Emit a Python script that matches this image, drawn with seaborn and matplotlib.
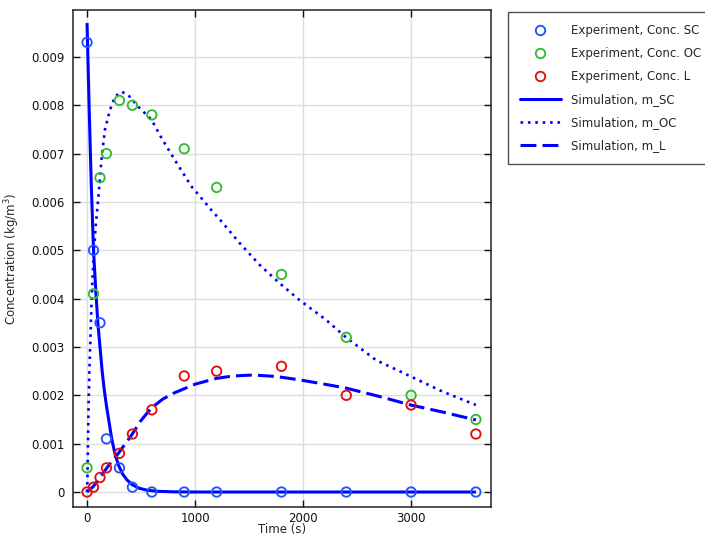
import numpy as np
import pandas as pd
import matplotlib
matplotlib.use("Agg")
import matplotlib.pyplot as plt
import seaborn as sns
from matplotlib.lines import Line2D

# ---- Experimental data ----
t_exp = [0, 60, 120, 180, 300, 420, 600, 900, 1200, 1800, 2400, 3000, 3600]
conc_sc = [0.0093, 0.0050, 0.0035, 0.0011, 0.0005, 0.0001, 0.0, 0.0, 0.0, 0.0, 0.0, 0.0, 0.0]
conc_oc = [0.0005, 0.0041, 0.0065, 0.0070, 0.0081, 0.0080, 0.0078, 0.0071, 0.0063, 0.0045, 0.0032, 0.0020, 0.0015]
conc_l = [0.0, 0.0001, 0.0003, 0.0005, 0.0008, 0.0012, 0.0017, 0.0024, 0.0025, 0.0026, 0.0020, 0.0018, 0.0012]

# ---- Simulation curves ----
t_sc = [0, 20, 40, 60, 80, 100, 120, 140, 160, 180, 200, 230, 260, 290, 330, 370, 420, 480, 550, 650, 800, 1000, 3600]
m_sc = [0.0097, 0.0079, 0.0063, 0.0050, 0.0042, 0.0035, 0.0030, 0.0025, 0.0021, 0.00178, 0.0015, 0.00108, 0.00078, 0.00056,
        0.00037, 0.00025, 0.00015, 0.00008, 0.00004, 0.000015, 0.000004, 0.0, 0.0]

t_oc = [0, 3, 6, 10, 15, 22, 30, 40, 50, 65, 80, 105, 136, 166, 212, 259, 320, 382, 474, 597, 690, 812, 967,
        1043, 1151, 1228, 1413, 1597, 1782, 1967, 2213, 2397, 2674, 2997, 3289, 3600]
m_oc = [0.0, 0.0002, 0.0006, 0.0012, 0.0019, 0.0025, 0.0031, 0.0038, 0.0044, 0.0050, 0.0055, 0.0061, 0.00694, 0.0075,
        0.0079, 0.00818, 0.00828, 0.00821, 0.00797, 0.0077, 0.00732, 0.00687, 0.00632, 0.00612, 0.00583, 0.00564,
        0.00515, 0.0047, 0.00432, 0.00397, 0.00356, 0.00320, 0.00273, 0.00239, 0.00208, 0.0018]

t_l = [0, 60, 120, 200, 290, 413, 500, 597, 700, 797, 1000, 1197, 1350, 1536, 1750, 1967, 2200, 2397, 2700, 2997, 3300, 3600]
m_l = [0.0, 0.00012, 0.0003, 0.00055, 0.0008, 0.00118, 0.00148, 0.00174, 0.00192, 0.00204, 0.00223, 0.00235, 0.0024,
       0.00242, 0.00239, 0.00232, 0.00223, 0.00215, 0.00198, 0.0018, 0.00165, 0.00149]

exp_labels = ["Experiment, Conc. SC", "Experiment, Conc. OC", "Experiment, Conc. L"]
sim_labels = ["Simulation, m_SC", "Simulation, m_OC", "Simulation, m_L"]
x_ticks = [0, 1000, 2000, 3000]
y_ticks = [0, 0.001, 0.002, 0.003, 0.004, 0.005, 0.006, 0.007, 0.008, 0.009]
y_ticklabels = ["0", "0.001", "0.002", "0.003", "0.004", "0.005", "0.006", "0.007", "0.008", "0.009"]

sns.set_style("ticks")
plt.rcParams["font.family"] = ["DejaVu Sans"]

fig = plt.figure(figsize=(7.05, 5.37), dpi=100)
ax = fig.add_axes([73 / 705, 1 - 507 / 537, (491 - 73) / 705, (507 - 10) / 537])

exp_colors = ["#2255ff", "#33bb33", "#dd1111"]
line_color = "#0000ff"
lw = 2.2

# grid
ax.grid(True, color="#dddddd", linewidth=1.0)
ax.set_axisbelow(True)

sim_dashes = [None, (1.0, 1.8), (5.2, 2.0)]
sim_lw = [lw, 1.9, lw]
for tt, mm, d, w in zip([t_sc, t_oc, t_l], [m_sc, m_oc, m_l], sim_dashes, sim_lw):
    df = pd.DataFrame({"t": tt, "m": mm})
    sns.lineplot(data=df, x="t", y="m", ax=ax, color=line_color, linewidth=w, sort=False, estimator=None)
    ln = ax.lines[-1]
    if d is not None:
        ln.set_dashes(d)
    ln.set_solid_capstyle("butt")
    ln.set_dash_capstyle("butt")

for vals, c in zip([conc_sc, conc_oc, conc_l], exp_colors):
    df = pd.DataFrame({"t": t_exp, "c": vals})
    sns.scatterplot(data=df, x="t", y="c", ax=ax, marker="o", s=46, facecolors="none",
                    edgecolor=c, linewidth=1.35, zorder=5)

ax.set_xlim(-130, 3740)
ax.set_ylim(-0.00031, 0.00997)
ax.set_xticks(x_ticks)
ax.set_xticklabels([str(v) for v in x_ticks])
ax.set_yticks(y_ticks)
ax.set_yticklabels(y_ticklabels)
ax.tick_params(direction="in", length=5, width=1.0, top=True, right=True, labelsize=8.5,
               colors="#111111")
ax.tick_params(axis="y", pad=6)
ax.tick_params(axis="x", pad=3.5)
ax.set_xlabel("Time (s)", fontsize=8.5, labelpad=-1)
ax.set_ylabel("Concentration (kg/m$^3$)", fontsize=8.5, labelpad=7)
for sp in ax.spines.values():
    sp.set_linewidth(1.1)
    sp.set_color("#222222")

handles = []
for c in exp_colors:
    handles.append(Line2D([], [], linestyle="none", marker="o", markersize=6.8, markerfacecolor="none",
                          markeredgecolor=c, markeredgewidth=1.35))
for d, w in zip(sim_dashes, sim_lw):
    h = Line2D([], [], color=line_color, linewidth=w, dash_capstyle="butt")
    if d is not None:
        h.set_dashes(d)
    handles.append(h)

leg = fig.legend(handles, exp_labels + sim_labels, loc="upper left",
                 bbox_to_anchor=(508 / 705, 1 - 12 / 537), borderaxespad=0,
                 fontsize=8.5, frameon=True, fancybox=False, handlelength=3.5,
                 labelspacing=0.85, borderpad=1.0, handletextpad=0.8, edgecolor="#222222")
leg.get_frame().set_linewidth(1.0)

fig.savefig("out.png", dpi=100)
